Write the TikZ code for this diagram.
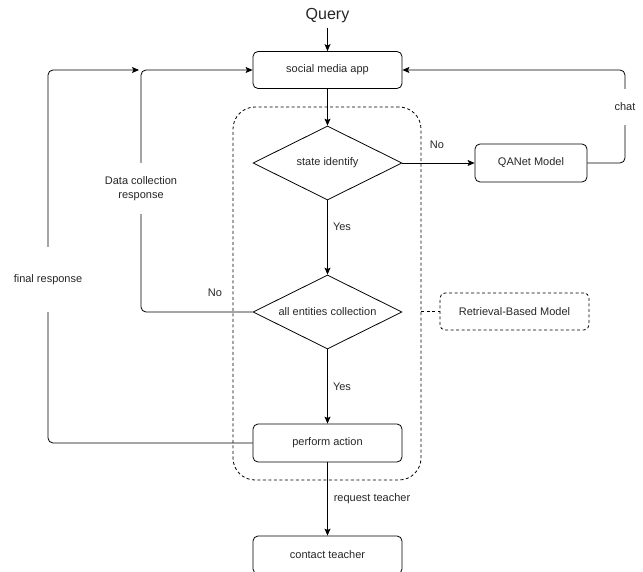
\documentclass[tikz,border=0pt]{standalone}
\usepackage{fontspec}
\setmainfont{Liberation Sans}
\usetikzlibrary{shapes.geometric,arrows.meta,calc}
\begin{document}
\begin{tikzpicture}[x=1pt,y=-1pt,line width=0.8pt,
  every node/.style={font=\fontsize{11}{14}\selectfont,text=black!85},
  proc/.style={draw,rounded corners=5pt,minimum width=149pt,minimum height=37pt,inner sep=0pt},
  deci/.style={draw,diamond,minimum width=149pt,minimum height=74pt,inner sep=0pt},
  arr/.style={-{Stealth[length=7pt,width=6pt,inset=1.5pt]}},
  dsh/.style={dash pattern=on 3pt off 2.5pt},
  lab/.style={fill=white,inner xsep=1pt,inner ysep=0pt}]
\useasboundingbox (0,0) rectangle (643,572);
% group container
\node[draw,dsh,rounded corners=22pt,minimum width=188pt,minimum height=373pt,inner sep=0pt] (grp) at (327,293.5) {};
% nodes
\node[font=\fontsize{16}{18}\selectfont,inner sep=4pt] (query) at (327.5,16) {Query};
\node[proc] (social) at (327.5,70) {social media app};
\node[deci] (state) at (327.5,163) {\makebox[0pt]{state identify}};
\node[proc,minimum width=112pt,minimum height=38pt] (qanet) at (531,163) {QANet Model};
\node[deci] (all) at (327.5,312) {\makebox[0pt]{all entities collection}};
\node[proc,dsh] (ret) at (514.5,311.5) {Retrieval-Based Model};
\node[proc,minimum height=38pt] (perform) at (327.5,443) {perform action};
\node[proc,minimum height=38pt] (contact) at (327.5,555) {contact teacher};
\coordinate (fr) at (139,70);
% connectors
\draw[arr] (query.south) -- (social.north);
\draw[arr] (social.south) -- (state.north);
\draw[arr] (state.east) -- (qanet.west);
\draw[arr,rounded corners=5pt] (qanet.east) -- (625,163) -- (625,70) -- (social.east);
\draw[arr] (state.south) -- (all.north);
\draw[arr,rounded corners=5pt] (all.west) -- (141,312) -- (141,70) -- (social.west);
\draw[arr] (all.south) -- (perform.north);
\draw[arr,rounded corners=5pt] (perform.west) -- (48,443) -- (48,70) -- (fr);
\draw[arr] (perform.south) -- (contact.north);
\draw[dsh] (grp.east |- ret.west) -- (ret.west);
% labels
\node[lab,minimum height=36pt] at (625,107) {chat};
\node[lab,minimum height=51pt,align=center] at (141,188.5) {Data collection\\response};
\node[lab,minimum height=65pt] at (48,279.5) {final response};
\node at (437,145) {No};
\node at (215,293) {No};
\node at (342,227) {Yes};
\node at (342,387) {Yes};
\node at (372,499) {request teacher};
\end{tikzpicture}
\end{document}
